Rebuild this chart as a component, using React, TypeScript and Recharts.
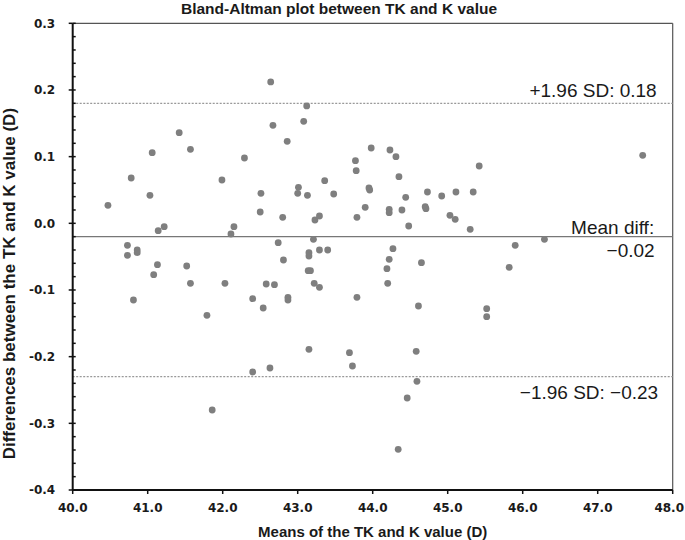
import {
  ScatterChart,
  Scatter,
  XAxis,
  YAxis,
  ReferenceLine,
} from 'recharts';

// mean of TK and K value (D)
const means = [
  40.47, 40.73, 40.73, 40.78, 40.81, 40.86, 40.86, 41.03, 41.06, 41.08,
  41.13, 41.14, 41.22, 41.42, 41.52, 41.57, 41.57, 41.79, 41.86, 41.99,
  42.03, 42.11, 42.15, 42.29, 42.4, 42.4, 42.5, 42.51, 42.54, 42.58,
  42.63, 42.64, 42.67, 42.69, 42.74, 42.8, 42.81, 42.86, 42.87, 42.87,
  43.0, 43.01, 43.08, 43.12, 43.13, 43.14, 43.17, 43.15, 43.15, 43.15,
  43.21, 43.22, 43.23, 43.29, 43.29, 43.29, 43.36, 43.4, 43.48, 43.69,
  43.73, 43.77, 43.78, 43.79, 43.79, 43.9, 43.95, 43.96, 43.98, 44.19,
  44.2, 44.22, 44.22, 44.22, 44.23, 44.27, 44.31, 44.34, 44.35, 44.39,
  44.44, 44.46, 44.48, 44.58, 44.59, 44.61, 44.65, 44.7, 44.71, 44.73,
  44.92, 45.03, 45.1, 45.11, 45.3, 45.34, 45.42, 45.52, 45.52, 45.82,
  45.9, 46.29, 47.6,
];

// difference TK - K (D)
const diffs = [
  0.027, -0.033, -0.048, 0.068, -0.115, -0.04, -0.044, 0.042, 0.106, -0.077,
  -0.062, -0.011, -0.005, 0.136, -0.064, 0.111, -0.09, -0.138, -0.28, 0.065,
  -0.09, -0.016, -0.005, 0.098, -0.113, -0.223, 0.017, 0.045, -0.127, -0.091,
  -0.217, 0.212, 0.147, -0.092, -0.029, 0.009, -0.055, 0.123, -0.111, -0.115,
  0.045, 0.054, 0.153, 0.176, 0.042, -0.071, -0.071, -0.044, -0.049, -0.189,
  -0.024, -0.09, 0.005, 0.011, -0.04, -0.096, 0.064, -0.04, 0.044, -0.194,
  -0.214, 0.094, 0.079, 0.009, -0.111, 0.024, 0.053, 0.05, 0.113, -0.068,
  -0.09, 0.021, 0.016, -0.054, 0.11, -0.038, 0.1, -0.339, 0.07, 0.02,
  0.039, -0.262, -0.004, -0.192, -0.237, -0.124, -0.059, 0.025, 0.022, 0.047,
  0.041, 0.012, 0.006, 0.047, -0.009, 0.047, 0.086, -0.128, -0.14, -0.066,
  -0.033, -0.024, 0.102,
];

const meanDiff = -0.02;
const upperLoA = 0.18;
const lowerLoA = -0.23;

const xTicks = [40, 41, 42, 43, 44, 45, 46, 47, 48];
const yTicks = [-0.4, -0.3, -0.2, -0.1, 0, 0.1, 0.2, 0.3];
const yMinorTicks = Array.from({ length: 36 }, (_, i) => -0.4 + i * 0.02);

const points = means.map((m, i) => ({ mean: m, diff: diffs[i] }));

const tickFont = { fontFamily: 'DejaVu Sans', fontWeight: 700, fontSize: 12, fill: '#1a1a1a' };
const refFont = { fontFamily: 'Liberation Sans, Arial', fontSize: 19, fill: '#1a1a1a' };
const titleFont = { fontFamily: 'Liberation Sans, Arial', fontWeight: 700, fill: '#1a1a1a' };

const Dot = (props: any) => <circle cx={props.cx} cy={props.cy} r={3.4} fill="#7f7f7f" />;

// keeps the last label inside the picture
const XTick = (props: any) => {
  const { x, y, payload } = props;
  const label = Number(payload.value).toFixed(1);
  const atEdge = x + 15 > 684;
  return (
    <text
      x={atEdge ? 684 : x}
      y={y}
      dy="0.71em"
      textAnchor={atEdge ? 'end' : 'middle'}
      style={tickFont}
    >
      {label}
    </text>
  );
};

export default function App() {
  return (
    <div style={{ position: 'absolute', left: 0, top: 0, width: 685, height: 540, background: '#fff' }}>
      <div
        style={{
          position: 'absolute',
          left: 0,
          top: -1,
          width: 678,
          textAlign: 'center',
          fontFamily: 'Liberation Sans, Arial',
          fontWeight: 700,
          fontSize: 15.5,
          lineHeight: '20px',
          color: '#1a1a1a',
        }}
      >
        Bland-Altman plot between TK and K value
      </div>
      <ScatterChart
        width={685}
        height={540}
        margin={{ top: 23.3, right: 12.3, left: 12.7, bottom: 20 }}
      >
        <XAxis
          dataKey="mean"
          type="number"
          domain={[40, 48]}
          ticks={xTicks}
          allowDataOverflow
          tick={<XTick />}
          tickSize={4}
          tickMargin={9}
          height={30}
          axisLine={{ stroke: '#111', strokeWidth: 2 }}
          tickLine={{ stroke: '#111', strokeWidth: 1.5 }}
          label={{
            content: (p: any) => {
              const vb = p.viewBox;
              return (
                <text
                  x={vb.x + vb.width / 2}
                  y={536.5}
                  textAnchor="middle"
                  style={{ ...titleFont, fontSize: 15 }}
                >
                  Means of the TK and K value (D)
                </text>
              );
            },
          }}
        />
        <XAxis
          xAxisId="minor"
          type="number"
          domain={[40, 48]}
          ticks={xTicks}
          allowDataOverflow
          mirror
          axisLine={false}
          tickSize={2.5}
          tickFormatter={() => ''}
          tickLine={{ stroke: '#111', strokeWidth: 1.5 }}
        />
        <YAxis
          dataKey="diff"
          type="number"
          domain={[-0.4, 0.3]}
          ticks={yTicks}
          allowDataOverflow
          tickFormatter={(v: number) => v.toFixed(1)}
          tick={tickFont}
          tickSize={4}
          tickMargin={13.5}
          width={60}
          axisLine={{ stroke: '#111', strokeWidth: 2 }}
          tickLine={{ stroke: '#111', strokeWidth: 1.5 }}
          label={{
            content: (p: any) => {
              const vb = p.viewBox;
              const cy = vb.y + vb.height / 2 + 27;
              return (
                <text
                  x={10}
                  y={cy}
                  transform={`rotate(-90, 10, ${cy})`}
                  textAnchor="middle"
                  dominantBaseline="central"
                  style={{ ...titleFont, fontSize: 17 }}
                >
                  Differences between the TK and K value (D)
                </text>
              );
            },
          }}
        />
        <YAxis
          yAxisId="minor"
          type="number"
          domain={[-0.4, 0.3]}
          ticks={yMinorTicks}
          allowDataOverflow
          mirror
          axisLine={false}
          tickSize={3}
          tickFormatter={() => ''}
          tickLine={{ stroke: '#111', strokeWidth: 1.5 }}
        />
        <ReferenceLine y={0.3} stroke="#555" strokeWidth={1.2} />
        <ReferenceLine x={48} stroke="#555" strokeWidth={1.2} />
        <ReferenceLine
          y={upperLoA}
          stroke="#999"
          strokeWidth={1.2}
          strokeDasharray="2 1.5"
          label={{
            content: (p: any) => {
              const vb = p.viewBox;
              return (
                <text x={vb.x + vb.width - 16} y={vb.y - 6.5} textAnchor="end" style={refFont}>
                  +1.96 SD: {upperLoA.toFixed(2)}
                </text>
              );
            },
          }}
        />
        <ReferenceLine
          y={meanDiff}
          stroke="#777"
          strokeWidth={1.3}
          label={{
            content: (p: any) => {
              const vb = p.viewBox;
              return (
                <g>
                  <text x={vb.x + vb.width - 18.5} y={vb.y - 2.7} textAnchor="end" style={refFont}>
                    Mean diff:
                  </text>
                  <text x={vb.x + vb.width - 18} y={vb.y + 20} textAnchor="end" style={refFont}>
                    {'\u2212' + Math.abs(meanDiff).toFixed(2)}
                  </text>
                </g>
              );
            },
          }}
        />
        <ReferenceLine
          y={lowerLoA}
          stroke="#999"
          strokeWidth={1.2}
          strokeDasharray="2 1.5"
          label={{
            content: (p: any) => {
              const vb = p.viewBox;
              return (
                <text x={vb.x + vb.width - 14.5} y={vb.y + 22.3} textAnchor="end" style={refFont}>
                  {'\u22121.96 SD: \u2212' + Math.abs(lowerLoA).toFixed(2)}
                </text>
              );
            },
          }}
        />
        <Scatter data={points} shape={Dot} isAnimationActive={false} />
      </ScatterChart>
    </div>
  );
}
